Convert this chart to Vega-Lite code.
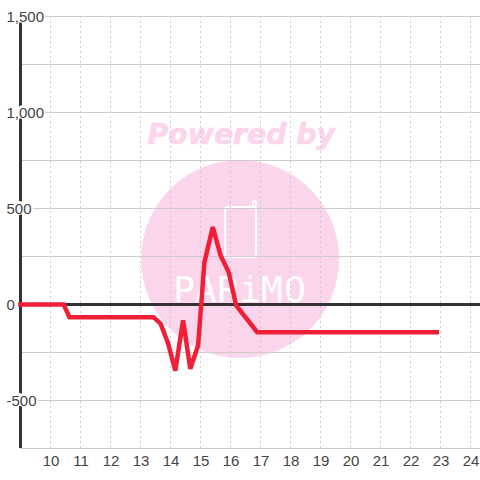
{
"$schema":"https://vega.github.io/schema/vega-lite/v6.json",
"width":460,"height":432,
"autosize":{"type":"none"},
"padding":{"left":20,"top":16,"right":0,"bottom":32},
"background":"white",
"config":{"view":{"stroke":null},"font":"Liberation Sans"},
"encoding":{
 "x":{"field":"x","type":"quantitative","scale":{"domain":[8.9833,24.3167],"nice":false,"zero":false},
  "axis":{"values":[10,11,12,13,14,15,16,17,18,19,20,21,22,23,24],"grid":false,"domain":false,"ticks":false,"labelFontSize":15,"labelColor":"#444444","labelPadding":5,"labelFlush":false,"title":null,"zindex":1,"format":"d"}},
 "y":{"field":"y","type":"quantitative","scale":{"domain":[-747.4,1502.6],"nice":false,"zero":false},
  "axis":{"values":[-500,0,500,1000,1500],"grid":false,"domain":false,"ticks":false,"tickSize":0,"labelFontSize":15,"labelColor":"#444444","labelAlign":"left","labelPadding":14,"title":null,"zindex":1,"labelExpr":"datum.value<0?'-500':datum.label","encoding":{"labels":{"update":{"dx":{"signal":"datum.value==0?2:datum.value<0?-4:0"}}}}}}
},
"layer":[
 {"data":{"values":[{"x":16.32,"y":237}]},"mark":{"type":"point","filled":true,"shape":"circle","size":39204,"color":"#fbd5ec","opacity":1}},
 {"data":{"values":[{"x":16.36,"y":878,"label":"Powered by"}]},"mark":{"type":"text","font":"DejaVu Sans","fontWeight":"bold","fontStyle":"italic","fontSize":28.3,"color":"#fbd5ec","stroke":"#fbd5ec","strokeWidth":0.7},"encoding":{"text":{"field":"label"}}},
 {"data":{"values":[{"x":15.82,"x2":16.85,"y":508,"y2":247},{"x":16.75,"x2":16.85,"y":538,"y2":508}]},"mark":{"type":"rect","filled":false,"stroke":"white","strokeWidth":2,"cornerRadius":3},"encoding":{"x2":{"field":"x2"},"y2":{"field":"y2"}}},
 {"data":{"values":[{"x":14.45,"y":72,"label":"P"},{"x":15.18,"y":72,"label":"A"},{"x":15.92,"y":72,"label":"R"},{"x":16.65,"y":72,"label":"i"},{"x":17.38,"y":72,"label":"M"},{"x":18.15,"y":72,"label":"O"}]},"mark":{"type":"text","font":"DejaVu Sans Mono","fontSize":36,"color":"white"},"encoding":{"text":{"field":"label"}}},
 {"data":{"values":[{"x":10},{"x":11},{"x":12},{"x":13},{"x":14},{"x":15},{"x":16},{"x":17},{"x":18},{"x":19},{"x":20},{"x":21},{"x":22},{"x":23},{"x":24}]},"mark":{"type":"rule","stroke":"#cccccc","strokeWidth":1,"strokeDash":[2,3]},"encoding":{"y":null}},
 {"data":{"values":[{"y":-750},{"y":-500},{"y":-250},{"y":250},{"y":500},{"y":750},{"y":1000},{"y":1250},{"y":1500}]},"mark":{"type":"rule","stroke":"#cccccc","strokeWidth":1},"encoding":{"x":null}},
 {"data":{"values":[{"x":9}]},"mark":{"type":"rule","stroke":"#333333","strokeWidth":3},"encoding":{"y":null}},
 {"data":{"values":[{"y":0}]},"mark":{"type":"rule","stroke":"#333333","strokeWidth":3},"encoding":{"x":null}},
 {"data":{"values":[{"y":-500,"x":9,"label":"-500"},{"y":0,"x":9,"label":"0"},{"y":500,"x":9,"label":"500"},{"y":1000,"x":9,"label":"1,000"},{"y":1500,"x":9,"label":"1,500"}]},"mark":{"type":"text","align":"left","dx":-14,"fontSize":15,"color":"white","stroke":"white","strokeWidth":4},"encoding":{"text":{"field":"label"}}},
 {"data":{"values":[{"x":8.92,"y":0},{"x":10.44,"y":0},{"x":10.63,"y":-66},{"x":13.43,"y":-66},{"x":13.67,"y":-100},{"x":13.92,"y":-203},{"x":14.16,"y":-344},{"x":14.42,"y":-83},{"x":14.66,"y":-335},{"x":14.92,"y":-214},{"x":15.13,"y":219},{"x":15.41,"y":403},{"x":15.67,"y":255},{"x":15.94,"y":168},{"x":16.19,"y":-5},{"x":16.89,"y":-144},{"x":22.95,"y":-144}]},"mark":{"type":"line","stroke":"#f01f35","strokeWidth":4.5,"strokeJoin":"miter"}}
]
}
